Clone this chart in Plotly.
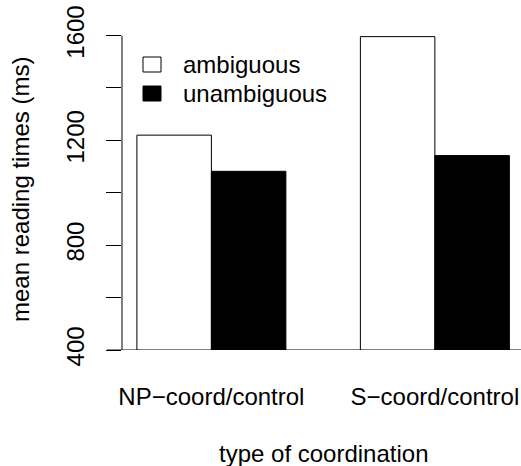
import plotly.graph_objects as go

categories = ["NP−coord/control", "S−coord/control"]
series_names = ["ambiguous", "unambiguous"]
ambiguous = [1220, 1596]
unambiguous = [1082, 1142]
y_tickvals = [400, 600, 800, 1000, 1200, 1400, 1600]
y_ticktext = ["400", "", "800", "", "1200", "", "1600"]

FONT = "Liberation Sans, Arial, Helvetica, sans-serif"
FILLS = ["white", "black"]

W, H = 521, 466
ML, MR, MT, MB = 122, 0, 23, 116
PW, PH = W - ML - MR, H - MT - MB


def px_x(px):
    return (px - ML) / PW


def px_y(py):
    return (H - MB - py) / PH


fig = go.Figure()
for name, vals, fill in zip(series_names, [ambiguous, unambiguous], FILLS):
    fig.add_trace(go.Bar(x=categories, y=vals, name=name,
                         marker=dict(color=fill, line=dict(color="black", width=1)),
                         showlegend=False))

# manual legend (R-style) with square keys
shapes = [
    dict(type="line", xref="paper", yref="y", x0=0, x1=0, y0=400, y1=1600,
         line=dict(color="black", width=1)),
    dict(type="line", xref="paper", yref="y", x0=px_x(107), x1=1, y0=400, y1=400,
         line=dict(color="black", width=1)),
]
annotations = [
    dict(text="type of coordination", xref="paper", yref="paper",
         x=px_x(323), y=px_y(453), xanchor="center", yanchor="middle",
         showarrow=False, font=dict(size=24)),
    dict(text="mean reading times (ms)", xref="paper", yref="paper",
         x=px_x(20), y=px_y(190), xanchor="center", yanchor="middle",
         textangle=-90, showarrow=False, font=dict(size=24)),
]
key_tops = [57, 86]
for name, fill, top in zip(series_names, FILLS, key_tops):
    shapes.append(dict(type="rect", xref="paper", yref="paper",
                       x0=px_x(143), x1=px_x(161), y0=px_y(top), y1=px_y(top + 15),
                       fillcolor=fill, line=dict(color="black", width=1)))
    annotations.append(dict(text=name, xref="paper", yref="paper",
                            x=px_x(181), y=px_y(top + 7.5), xanchor="left",
                            yanchor="middle", showarrow=False,
                            font=dict(size=24)))

fig.update_layout(
    template="none",
    width=W, height=H,
    margin=dict(l=ML, r=MR, t=MT, b=MB, autoexpand=False),
    paper_bgcolor="white", plot_bgcolor="white",
    barmode="group", bargap=1/3, bargroupgap=0,
    font=dict(family=FONT, size=24, color="black"),
    showlegend=False,
    xaxis=dict(type="category", range=[-0.4, 1.3853], showline=False,
               showgrid=False, zeroline=False, ticks="", automargin=False,
               tickfont=dict(size=24), ticklabelstandoff=30),
    yaxis=dict(range=[400, 1648], showline=False, showgrid=False, zeroline=False,
               tickvals=y_tickvals, ticktext=y_ticktext, ticks="outside",
               ticklen=15, tickwidth=1, tickcolor="black", tickangle=-90,
               automargin=False,
               tickfont=dict(size=24), ticklabelstandoff=12),
    shapes=shapes,
    annotations=annotations,
)

fig.write_html(
    "out.html",
    config={"displayModeBar": False},
    post_script="document.body.style.margin='0';document.body.style.padding='0';"
                "document.body.style.overflow='hidden';",
)
